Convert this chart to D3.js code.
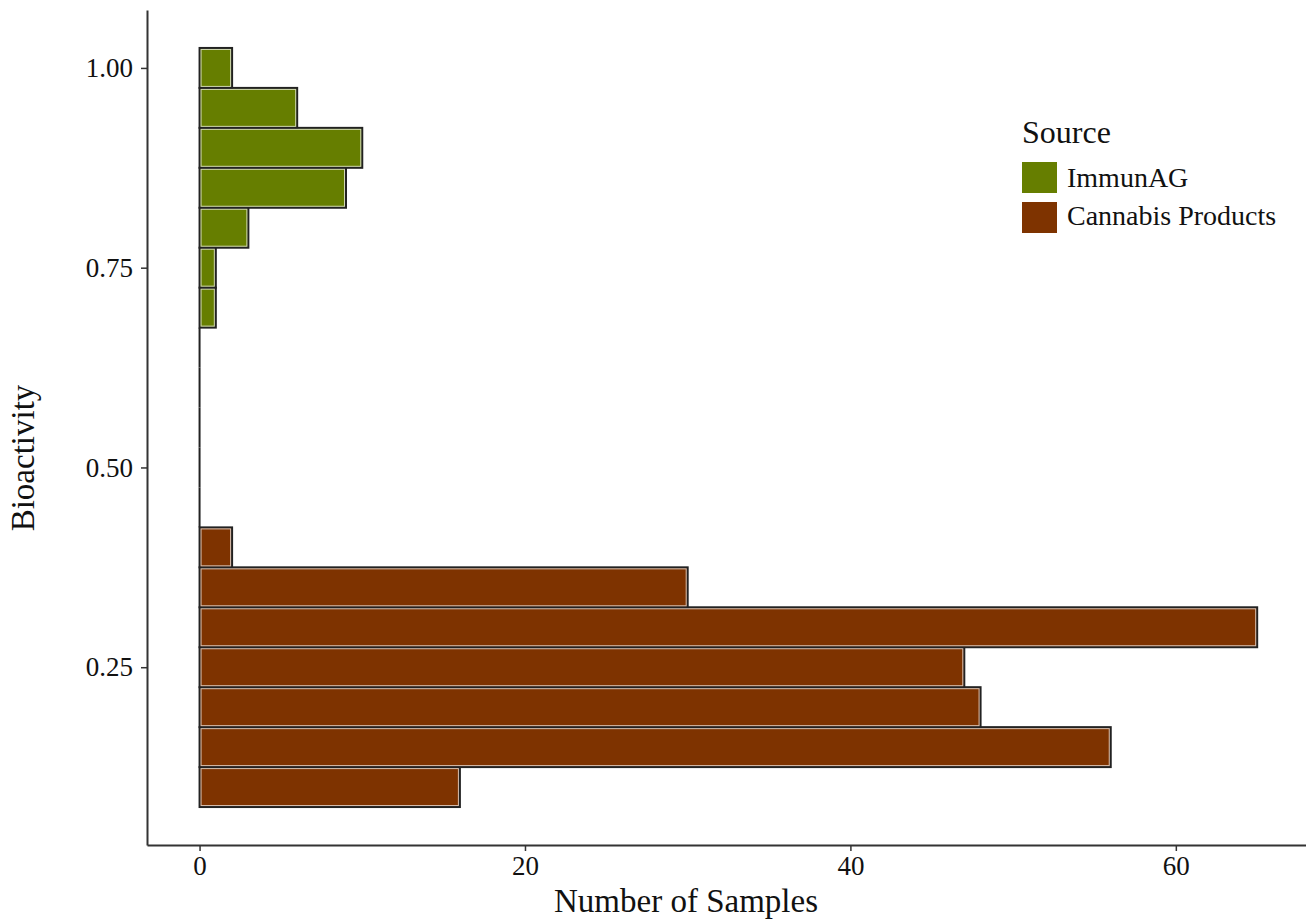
<!DOCTYPE html>
<html>
<head>
<meta charset="utf-8">
<script src="https://cdn.jsdelivr.net/npm/d3@7"></script>
<style>
  body { margin: 0; background: #fff; }
  text { font-family: 'Liberation Serif', 'Times New Roman', serif; fill: #111; }
</style>
</head>
<body>
<div id="chart"></div>
<script>
// bin centres (Bioactivity), width 0.05
const binCenters = [0.10, 0.15, 0.20, 0.25, 0.30, 0.35, 0.40, 0.45, 0.50, 0.55, 0.60, 0.65, 0.70, 0.75, 0.80, 0.85, 0.90, 0.95, 1.00];
const immunagCounts = [0, 0, 0, 0, 0, 0, 0, 0, 0, 0, 0, 0, 1, 1, 3, 9, 10, 6, 2];
const cannabisCounts = [16, 56, 48, 47, 65, 30, 2, 0, 0, 0, 0, 0, 0, 0, 0, 0, 0, 0, 0];
const sources = ['ImmunAG', 'Cannabis Products'];
const sourceColors = ['#667e00', '#7e3300'];
const xTicks = [0, 20, 40, 60];
const yTicks = [0.25, 0.50, 0.75, 1.00];
const binWidth = 0.05;

const width = 1306, height = 921;
const margin = { top: 10, right: 0, bottom: 76, left: 147 };

const svg = d3.select('#chart').append('svg')
  .attr('width', width)
  .attr('height', height);

const x = d3.scaleLinear()
  .domain([-3.23, 68.0])
  .range([margin.left, width - margin.right]);

const y = d3.scaleLinear()
  .domain([0.0275, 1.0725])
  .range([height - margin.bottom, margin.top]);

const series = [
  { name: sources[0], color: sourceColors[0], counts: immunagCounts },
  { name: sources[1], color: sourceColors[1], counts: cannabisCounts }
];

// empty bins show as a flat outline on the zero line
const emptyBins = binCenters.filter((c, i) => immunagCounts[i] === 0 && cannabisCounts[i] === 0);
const zeroGroup = svg.append('g');
emptyBins.forEach(c => {
  zeroGroup.append('line')
    .attr('x1', x(0)).attr('x2', x(0))
    .attr('y1', y(c + binWidth / 2)).attr('y2', y(c - binWidth / 2))
    .attr('stroke', '#222').attr('stroke-width', 2);
});

series.forEach(s => {
  const bins = binCenters.map((c, i) => ({ c, n: s.counts[i] })).filter(d => d.n > 0);
  const g = svg.append('g');
  g.selectAll('rect.outer')
    .data(bins)
    .join('rect')
    .attr('class', 'outer')
    .attr('x', x(0))
    .attr('y', d => y(d.c + binWidth / 2))
    .attr('width', d => x(d.n) - x(0))
    .attr('height', d => y(d.c - binWidth / 2) - y(d.c + binWidth / 2))
    .attr('fill', s.color)
    .attr('stroke', '#222')
    .attr('stroke-width', 2);
  g.selectAll('rect.inner')
    .data(bins)
    .join('rect')
    .attr('class', 'inner')
    .attr('x', x(0) + 1.5)
    .attr('y', d => y(d.c + binWidth / 2) + 1.5)
    .attr('width', d => Math.max(0, x(d.n) - x(0) - 3))
    .attr('height', d => y(d.c - binWidth / 2) - y(d.c + binWidth / 2) - 3)
    .attr('fill', 'none')
    .attr('stroke', 'rgba(255,255,255,0.7)')
    .attr('stroke-width', 1);
});

// axes
const xAxis = svg.append('g')
  .attr('transform', `translate(0, ${height - margin.bottom})`)
  .call(d3.axisBottom(x).tickValues(xTicks).tickSizeInner(6).tickSizeOuter(0).tickPadding(5).tickFormat(d3.format('d')));
const yAxis = svg.append('g')
  .attr('transform', `translate(${margin.left}, 0)`)
  .call(d3.axisLeft(y).tickValues(yTicks).tickSizeInner(6).tickSizeOuter(0).tickPadding(8).tickFormat(d3.format('.2f')));

[xAxis, yAxis].forEach(a => {
  a.select('.domain').attr('stroke', '#333').attr('stroke-width', 2);
  a.selectAll('.tick line').attr('stroke', '#333').attr('stroke-width', 1.5);
  a.selectAll('.tick text')
    .attr('font-size', 27)
    .attr('fill', '#111');
});

svg.append('text')
  .attr('x', 686)
  .attr('y', 912)
  .attr('text-anchor', 'middle')
  .attr('font-size', 33)
  .text('Number of Samples');

svg.append('text')
  .attr('transform', `translate(34, 458) rotate(-90)`)
  .attr('text-anchor', 'middle')
  .attr('font-size', 33)
  .text('Bioactivity');

// legend
const legend = svg.append('g').attr('transform', 'translate(1022, 0)');
legend.append('text')
  .attr('x', 0).attr('y', 143)
  .attr('font-size', 32)
  .text('Source');
series.forEach((s, i) => {
  legend.append('rect')
    .attr('x', 0).attr('y', 162 + i * 40)
    .attr('width', 35).attr('height', 31)
    .attr('fill', s.color);
  legend.append('text')
    .attr('x', 45).attr('y', 187 + i * 38)
    .attr('font-size', 28)
    .text(s.name);
});
</script>
</body>
</html>
